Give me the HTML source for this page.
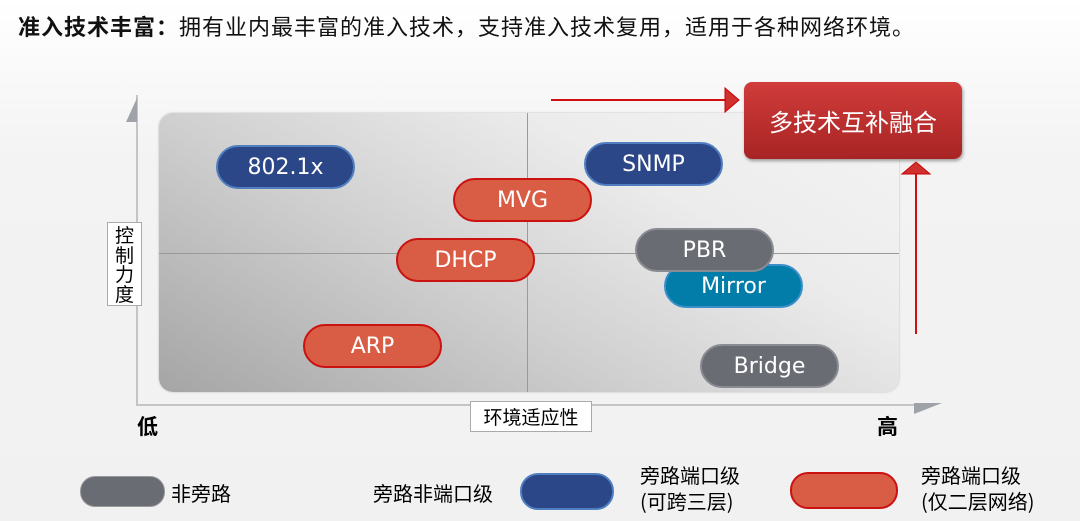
<!DOCTYPE html>
<html><head><meta charset="utf-8"><style>
body{margin:0;width:1080px;height:521px;overflow:hidden;background:linear-gradient(#ffffff,#f3f3f3 30%,#f1f1f1);font-family:"Liberation Sans","Noto Sans CJK SC",sans-serif;position:relative}
.a{position:absolute}
.pill{position:absolute;width:139px;height:44px;border-radius:23px;color:#fff;font-family:"DejaVu Sans","Noto Sans CJK SC",sans-serif;font-size:22px;display:flex;align-items:center;justify-content:center;box-sizing:border-box}
.b{background:#2c4787;border:2px solid #4f7fc0}
.r{background:#d95c45;border:2px solid #cc1111}
.g{background:#6a6c74;border:2px solid #8a8c92}
.c{background:#027ca9;border:2px solid #3a8fc8}
.cn{font-family:"Noto Sans CJK SC",sans-serif}
</style></head><body>
<div class="a cn" style="left:18px;top:10px;font-size:22px;letter-spacing:1px;color:#111;white-space:nowrap"><b>准入技术丰富：</b>拥有业内最丰富的准入技术，支持准入技术复用，适用于各种网络环境。</div>

<div class="a" style="left:159px;top:113px;width:740px;height:279px;border-radius:14px;background:linear-gradient(30deg,#a5a5a5 0%,#d0d0d0 40%,#ececec 70%,#f4f4f4 100%);box-shadow:0 0 2px #bbb"></div>
<div class="a" style="left:527px;top:113px;width:1px;height:279px;background:#9a9a9a"></div>
<div class="a" style="left:159px;top:253px;width:740px;height:1px;background:#9a9a9a"></div>

<div class="a" style="left:136px;top:95px;width:2px;height:311px;background:#c4c4c4"></div>
<div class="a" style="left:136px;top:404px;width:780px;height:2px;background:#c4c4c4"></div>
<svg class="a" style="left:0;top:0" width="1080" height="521">
<polygon points="126,122 137,98 137,122" fill="#a0a2aa"/>
<polygon points="914,414 942,403 914,403" fill="#a0a2aa"/>
<line x1="551" y1="100" x2="725" y2="100" stroke="#d01010" stroke-width="2"/>
<polygon points="725,88 739,100 725,112" fill="#d03030" stroke="#c00" stroke-width="1"/>
<line x1="916" y1="334" x2="916" y2="172" stroke="#d01010" stroke-width="2"/>
<polygon points="902,174 916,162 930,174" fill="#d03030" stroke="#c00" stroke-width="1"/>
</svg>

<div class="a cn" style="left:107px;top:222px;width:35px;height:84px;background:#fff;border:1px solid #aaa;font-size:19px;line-height:19.5px;text-align:center;padding-top:2px;box-sizing:border-box">控<br>制<br>力<br>度</div>
<div class="a cn" style="left:470px;top:401px;width:122px;height:31px;background:#fff;border:1px solid #aaa;font-size:19px;line-height:29px;text-align:center;box-sizing:border-box">环境适应性</div>
<div class="a cn" style="left:137px;top:411px;font-size:21px;font-weight:bold">低</div>
<div class="a cn" style="left:877px;top:411px;font-size:21px;font-weight:bold">高</div>

<div class="a cn" style="left:744px;top:82px;width:218px;height:77px;border-radius:8px;background:linear-gradient(#d03c3a,#a82424);color:#fff;font-size:24px;display:flex;align-items:center;justify-content:center;box-shadow:1px 2px 3px #999">多技术互补融合</div>

<div class="pill b" style="left:216px;top:145px">802.1x</div>
<div class="pill r" style="left:453px;top:178px">MVG</div>
<div class="pill r" style="left:396px;top:238px">DHCP</div>
<div class="pill r" style="left:303px;top:324px">ARP</div>
<div class="pill b" style="left:584px;top:142px">SNMP</div>
<div class="pill c" style="left:664px;top:264px">Mirror</div>
<div class="pill g" style="left:635px;top:228px">PBR</div>
<div class="pill g" style="left:700px;top:344px">Bridge</div>

<div class="a" style="left:80px;top:476px;width:85px;height:31px;border-radius:15px;background:#6a6c74;border:1px solid #999;box-sizing:border-box"></div>
<div class="a cn" style="left:171px;top:478px;font-size:20px">非旁路</div>
<div class="a cn" style="left:373px;top:478px;font-size:20px">旁路非端口级</div>
<div class="a" style="left:520px;top:473px;width:94px;height:37px;border-radius:18px;background:#2c4787;border:2px solid #4f7fc0;box-sizing:border-box"></div>
<div class="a cn" style="left:640px;top:462px;font-size:20px;line-height:26px">旁路端口级<br>(可跨三层)</div>
<div class="a" style="left:790px;top:472px;width:108px;height:37px;border-radius:18px;background:#d95c45;border:2px solid #cc1111;box-sizing:border-box"></div>
<div class="a cn" style="left:921px;top:462px;font-size:20px;line-height:26px">旁路端口级<br>(仅二层网络)</div>
</body></html>
